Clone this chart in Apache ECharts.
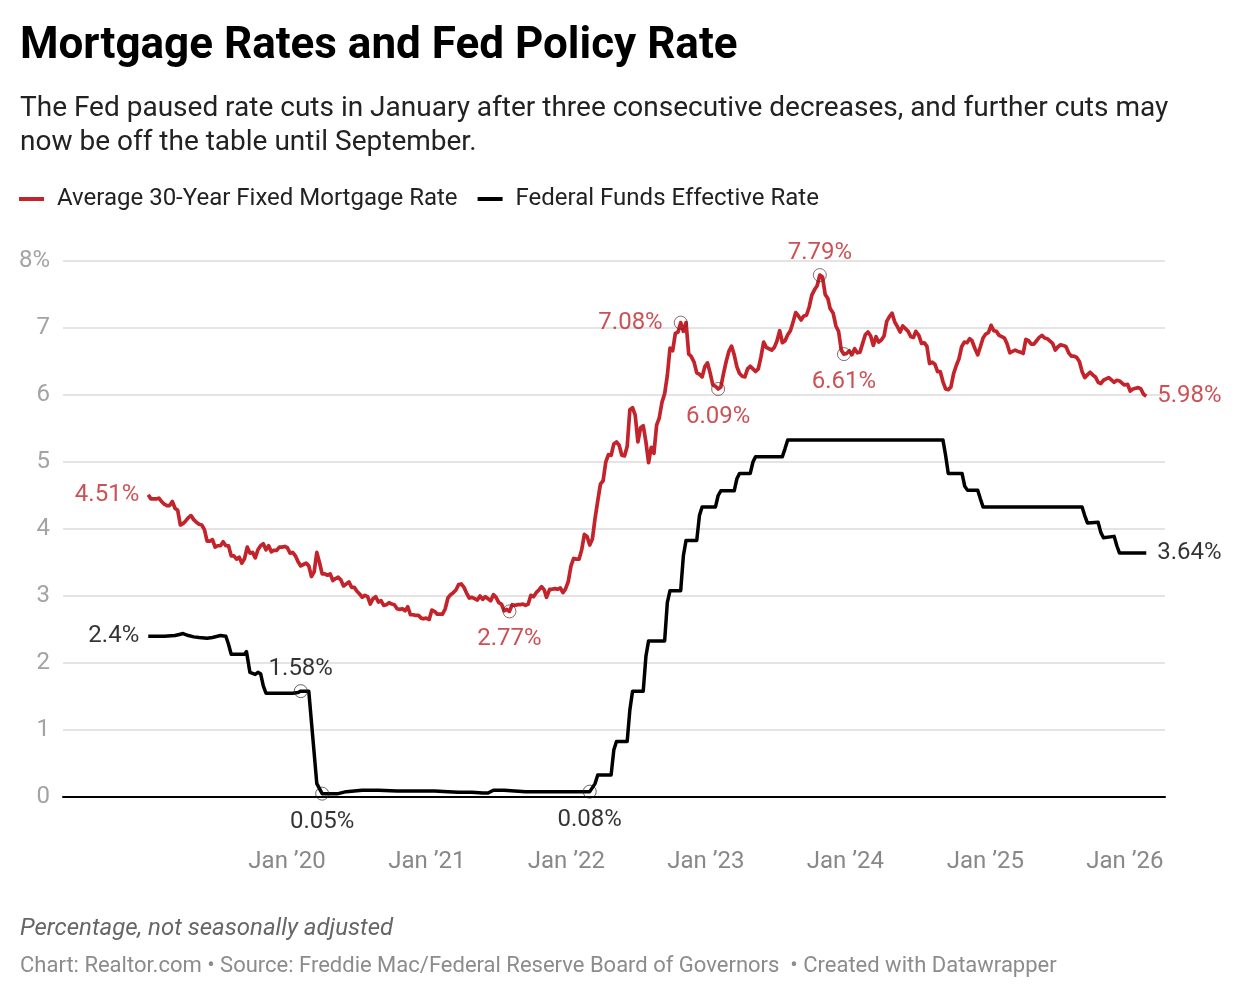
<!DOCTYPE html>
<html>
<head>
<meta charset="utf-8">
<script src="https://cdn.jsdelivr.net/npm/echarts@6/dist/echarts.min.js"></script>
<style>
html,body{margin:0;padding:0;background:#fff;}
#chart{width:1240px;height:998px;}
</style>
</head>
<body>
<div id="chart"></div>
<script>
// ---- Data ----
const mortgageRate = [
['2019-01-03',4.51],['2019-01-10',4.45],['2019-01-17',4.45],['2019-01-24',4.45],['2019-01-31',4.46],['2019-02-07',4.41],['2019-02-14',4.37],['2019-02-21',4.35],['2019-02-28',4.35],['2019-03-07',4.41],['2019-03-14',4.31],['2019-03-21',4.28],['2019-03-28',4.06],['2019-04-04',4.08],['2019-04-11',4.12],['2019-04-18',4.17],['2019-04-25',4.20],['2019-05-02',4.14],['2019-05-09',4.10],['2019-05-16',4.07],['2019-05-23',4.06],['2019-05-30',3.99],['2019-06-06',3.82],['2019-06-13',3.82],['2019-06-20',3.84],['2019-06-27',3.73],['2019-07-03',3.75],['2019-07-11',3.75],['2019-07-18',3.81],['2019-07-25',3.75],['2019-08-01',3.75],['2019-08-08',3.60],['2019-08-15',3.60],['2019-08-22',3.55],['2019-08-29',3.58],['2019-09-05',3.49],['2019-09-12',3.56],['2019-09-19',3.73],['2019-09-26',3.64],['2019-10-03',3.65],['2019-10-10',3.57],['2019-10-17',3.69],['2019-10-24',3.75],['2019-10-31',3.78],['2019-11-07',3.69],['2019-11-14',3.75],['2019-11-21',3.66],['2019-11-27',3.68],['2019-12-05',3.68],['2019-12-12',3.73],['2019-12-19',3.73],['2019-12-26',3.74],
['2020-01-02',3.72],['2020-01-09',3.64],['2020-01-16',3.65],['2020-01-23',3.60],['2020-01-30',3.51],['2020-02-06',3.45],['2020-02-13',3.47],['2020-02-20',3.49],['2020-02-27',3.45],['2020-03-05',3.29],['2020-03-12',3.36],['2020-03-19',3.65],['2020-03-26',3.50],['2020-04-02',3.33],['2020-04-09',3.33],['2020-04-16',3.31],['2020-04-23',3.33],['2020-04-30',3.23],['2020-05-07',3.26],['2020-05-14',3.28],['2020-05-21',3.24],['2020-05-28',3.15],['2020-06-04',3.18],['2020-06-11',3.21],['2020-06-18',3.13],['2020-06-25',3.13],['2020-07-02',3.07],['2020-07-09',3.03],['2020-07-16',2.98],['2020-07-23',3.01],['2020-07-30',2.99],['2020-08-06',2.88],['2020-08-13',2.96],['2020-08-20',2.99],['2020-08-27',2.91],['2020-09-03',2.93],['2020-09-10',2.86],['2020-09-17',2.87],['2020-09-24',2.90],['2020-10-01',2.88],['2020-10-08',2.87],['2020-10-15',2.81],['2020-10-22',2.80],['2020-10-29',2.81],['2020-11-05',2.78],['2020-11-12',2.84],['2020-11-19',2.72],['2020-11-25',2.72],['2020-12-03',2.71],['2020-12-10',2.71],['2020-12-17',2.67],['2020-12-23',2.66],['2020-12-30',2.67],
['2021-01-07',2.65],['2021-01-14',2.79],['2021-01-21',2.77],['2021-01-28',2.73],['2021-02-04',2.73],['2021-02-11',2.73],['2021-02-18',2.81],['2021-02-25',2.97],['2021-03-04',3.02],['2021-03-11',3.05],['2021-03-18',3.09],['2021-03-25',3.17],['2021-04-01',3.18],['2021-04-08',3.13],['2021-04-15',3.04],['2021-04-22',2.97],['2021-04-29',2.98],['2021-05-06',2.96],['2021-05-13',2.94],['2021-05-20',3.00],['2021-05-27',2.95],['2021-06-03',2.99],['2021-06-10',2.96],['2021-06-17',2.93],['2021-06-24',3.02],['2021-07-01',2.98],['2021-07-08',2.90],['2021-07-15',2.88],['2021-07-22',2.78],['2021-07-29',2.80],['2021-08-05',2.77],['2021-08-12',2.87],['2021-08-19',2.86],['2021-08-26',2.87],['2021-09-02',2.87],['2021-09-09',2.88],['2021-09-16',2.86],['2021-09-23',2.88],['2021-09-30',3.01],['2021-10-07',2.99],['2021-10-14',3.05],['2021-10-21',3.09],['2021-10-28',3.14],['2021-11-04',3.09],['2021-11-10',2.98],['2021-11-18',3.10],['2021-11-24',3.10],['2021-12-02',3.11],['2021-12-09',3.10],['2021-12-16',3.12],['2021-12-23',3.05],['2021-12-30',3.11],
['2022-01-06',3.22],['2022-01-13',3.45],['2022-01-20',3.56],['2022-01-27',3.55],['2022-02-03',3.55],['2022-02-10',3.69],['2022-02-17',3.92],['2022-02-24',3.89],['2022-03-03',3.76],['2022-03-10',3.85],['2022-03-17',4.16],['2022-03-24',4.42],['2022-03-31',4.67],['2022-04-07',4.72],['2022-04-14',5.00],['2022-04-21',5.11],['2022-04-28',5.10],['2022-05-05',5.27],['2022-05-12',5.30],['2022-05-19',5.25],['2022-05-26',5.10],['2022-06-02',5.09],['2022-06-09',5.23],['2022-06-16',5.78],['2022-06-23',5.81],['2022-06-30',5.70],['2022-07-07',5.30],['2022-07-14',5.51],['2022-07-21',5.54],['2022-07-28',5.30],['2022-08-04',4.99],['2022-08-11',5.22],['2022-08-18',5.13],['2022-08-25',5.55],['2022-09-01',5.66],['2022-09-08',5.89],['2022-09-15',6.02],['2022-09-22',6.29],['2022-09-29',6.70],['2022-10-06',6.66],['2022-10-13',6.92],['2022-10-20',6.94],['2022-10-27',7.08],['2022-11-03',6.95],['2022-11-10',7.08],['2022-11-17',6.61],['2022-11-23',6.58],['2022-12-01',6.49],['2022-12-08',6.33],['2022-12-15',6.31],['2022-12-22',6.27],['2022-12-29',6.42],
['2023-01-05',6.48],['2023-01-12',6.33],['2023-01-19',6.15],['2023-01-26',6.13],['2023-02-02',6.09],['2023-02-09',6.12],['2023-02-16',6.32],['2023-02-23',6.50],['2023-03-02',6.65],['2023-03-09',6.73],['2023-03-16',6.60],['2023-03-23',6.42],['2023-03-30',6.32],['2023-04-06',6.28],['2023-04-13',6.27],['2023-04-20',6.39],['2023-04-27',6.43],['2023-05-04',6.39],['2023-05-11',6.35],['2023-05-18',6.39],['2023-05-25',6.57],['2023-06-01',6.79],['2023-06-08',6.71],['2023-06-15',6.69],['2023-06-22',6.67],['2023-06-29',6.71],['2023-07-06',6.81],['2023-07-13',6.96],['2023-07-20',6.78],['2023-07-27',6.81],['2023-08-03',6.90],['2023-08-10',6.96],['2023-08-17',7.09],['2023-08-24',7.23],['2023-08-31',7.18],['2023-09-07',7.12],['2023-09-14',7.18],['2023-09-21',7.19],['2023-09-28',7.31],['2023-10-05',7.49],['2023-10-12',7.57],['2023-10-19',7.63],['2023-10-26',7.79],['2023-11-02',7.76],['2023-11-09',7.50],['2023-11-16',7.44],['2023-11-22',7.29],['2023-11-30',7.22],['2023-12-07',7.03],['2023-12-14',6.95],['2023-12-21',6.67],['2023-12-28',6.61],
['2024-01-04',6.62],['2024-01-11',6.66],['2024-01-18',6.60],['2024-01-25',6.69],['2024-02-01',6.63],['2024-02-08',6.64],['2024-02-15',6.77],['2024-02-22',6.90],['2024-02-29',6.94],['2024-03-07',6.88],['2024-03-14',6.74],['2024-03-21',6.87],['2024-03-28',6.79],['2024-04-04',6.82],['2024-04-11',6.88],['2024-04-18',7.10],['2024-04-25',7.17],['2024-05-02',7.22],['2024-05-09',7.09],['2024-05-16',7.02],['2024-05-23',6.94],['2024-05-30',7.03],['2024-06-06',6.99],['2024-06-13',6.95],['2024-06-20',6.87],['2024-06-27',6.86],['2024-07-03',6.95],['2024-07-11',6.89],['2024-07-18',6.77],['2024-07-25',6.78],['2024-08-01',6.73],['2024-08-08',6.47],['2024-08-15',6.49],['2024-08-22',6.46],['2024-08-29',6.35],['2024-09-05',6.35],['2024-09-12',6.20],['2024-09-19',6.09],['2024-09-26',6.08],['2024-10-03',6.12],['2024-10-10',6.32],['2024-10-17',6.44],['2024-10-24',6.54],['2024-10-31',6.72],['2024-11-07',6.79],['2024-11-14',6.78],['2024-11-21',6.84],['2024-11-27',6.81],['2024-12-05',6.69],['2024-12-12',6.60],['2024-12-19',6.72],['2024-12-26',6.85],
['2025-01-02',6.91],['2025-01-09',6.93],['2025-01-16',7.04],['2025-01-23',6.96],['2025-01-30',6.95],['2025-02-06',6.89],['2025-02-13',6.87],['2025-02-20',6.85],['2025-02-27',6.76],['2025-03-06',6.63],['2025-03-13',6.65],['2025-03-20',6.67],['2025-03-27',6.65],['2025-04-03',6.64],['2025-04-10',6.62],['2025-04-17',6.83],['2025-04-24',6.81],['2025-05-01',6.76],['2025-05-08',6.76],['2025-05-15',6.81],['2025-05-22',6.86],['2025-05-29',6.89],['2025-06-05',6.85],['2025-06-12',6.84],['2025-06-18',6.81],['2025-06-26',6.77],['2025-07-03',6.67],['2025-07-10',6.72],['2025-07-17',6.75],['2025-07-24',6.74],['2025-07-31',6.72],['2025-08-07',6.63],['2025-08-14',6.58],['2025-08-21',6.58],['2025-08-28',6.56],['2025-09-04',6.50],['2025-09-11',6.35],['2025-09-18',6.26],['2025-09-25',6.30],['2025-10-02',6.34],['2025-10-09',6.30],['2025-10-16',6.27],['2025-10-23',6.19],['2025-10-30',6.17],['2025-11-06',6.22],['2025-11-13',6.24],['2025-11-20',6.26],['2025-11-26',6.23],['2025-12-04',6.19],['2025-12-11',6.22],['2025-12-18',6.21],['2025-12-24',6.18],['2025-12-31',6.15],
['2026-01-08',6.16],['2026-01-15',6.06],['2026-01-22',6.09],['2026-01-29',6.10],['2026-02-05',6.11],['2026-02-12',6.09],['2026-02-19',6.01],['2026-02-26',5.98]
];

const fedFundsRate = [
['2019-01-03',2.40],['2019-02-14',2.40],['2019-03-14',2.41],['2019-03-28',2.43],['2019-04-04',2.44],['2019-04-18',2.41],['2019-05-02',2.39],['2019-05-16',2.38],['2019-06-06',2.37],['2019-06-20',2.38],['2019-07-11',2.41],['2019-07-25',2.40],['2019-08-01',2.28],['2019-08-08',2.13],['2019-09-12',2.13],['2019-09-17',2.17],['2019-09-26',1.86],['2019-10-10',1.83],['2019-10-17',1.86],['2019-10-24',1.84],['2019-10-31',1.66],['2019-11-07',1.55],['2020-01-16',1.55],['2020-01-30',1.56],['2020-02-06',1.58],['2020-02-27',1.58],['2020-03-19',0.20],['2020-04-02',0.05],['2020-04-23',0.05],['2020-05-14',0.05],['2020-06-04',0.08],['2020-06-25',0.09],['2020-07-16',0.10],['2020-08-27',0.10],['2020-10-15',0.09],['2020-12-17',0.09],['2021-01-21',0.09],['2021-02-25',0.08],['2021-03-25',0.07],['2021-04-29',0.07],['2021-05-27',0.06],['2021-06-10',0.06],['2021-06-24',0.10],['2021-07-22',0.10],['2021-08-19',0.09],['2021-09-16',0.08],['2021-12-30',0.08],['2022-03-03',0.08],['2022-03-17',0.20],['2022-03-24',0.33],['2022-04-28',0.33],['2022-05-05',0.70],['2022-05-12',0.83],['2022-06-09',0.83],['2022-06-16',1.30],['2022-06-23',1.58],['2022-07-21',1.58],['2022-07-28',2.10],['2022-08-04',2.33],['2022-09-15',2.33],['2022-09-22',2.90],['2022-09-29',3.08],['2022-10-27',3.08],['2022-11-03',3.60],['2022-11-10',3.83],['2022-12-08',3.83],['2022-12-15',4.20],['2022-12-22',4.33],['2023-01-26',4.33],['2023-02-02',4.50],['2023-02-09',4.57],['2023-03-16',4.57],['2023-03-23',4.75],['2023-03-30',4.83],['2023-04-27',4.83],['2023-05-04',5.00],['2023-05-11',5.08],['2023-07-20',5.08],['2023-07-27',5.20],['2023-08-03',5.33],['2024-09-12',5.33],['2024-09-19',5.10],['2024-09-26',4.83],['2024-11-01',4.83],['2024-11-08',4.64],['2024-11-15',4.58],['2024-12-12',4.58],['2024-12-19',4.45],['2024-12-26',4.33],['2025-09-11',4.33],['2025-09-18',4.20],['2025-09-25',4.09],['2025-10-23',4.10],['2025-10-30',3.95],['2025-11-06',3.87],['2025-12-04',3.89],['2025-12-11',3.75],['2025-12-18',3.64],['2026-02-26',3.64]
];

// dates of the circled highlight points
const mortgageNoteDates = ['2021-08-05','2022-10-27','2023-02-02','2023-10-26','2023-12-28'];
const fedNoteDates = ['2020-02-06','2020-04-02','2022-03-03'];

const yTicks = [0,1,2,3,4,5,6,7,8];
const xTickDates = ['2020-01-01','2021-01-01','2022-01-01','2023-01-01','2024-01-01','2025-01-01','2026-01-01'];
const xRange = ['2018-05-25','2026-04-16'];

const seriesNames = ['Average 30-Year Fixed Mortgage Rate','Federal Funds Effective Rate'];
const titleText = 'Mortgage Rates and Fed Policy Rate';
const subtitleLines = ['The Fed paused rate cuts in January after three consecutive decreases, and further cuts may','now be off the table until September.'];
const noteText = 'Percentage, not seasonally adjusted';
const sourceText = 'Chart: Realtor.com \u2022 Source: Freddie Mac/Federal Reserve Board of Governors  \u2022 Created with Datawrapper';

// ---- Styling / layout ----
const RED = '#c3232a';
const RED_TEXT = '#bf252b';
const FONT = 'Roboto, "Noto Sans", sans-serif';
const LABEL_SIZE = 24;
const notePos = {
  '2021-08-05':'bottom','2022-10-27':'left','2023-02-02':'bottom','2023-10-26':'top','2023-12-28':'bottom',
  '2020-02-06':'top','2020-04-02':'bottom','2022-03-03':'bottom'
};
const noteDist = { top: 3, bottom: 9, left: 11 };

const ms = d => Date.parse(d + 'T00:00:00Z');
const toXY = arr => arr.map(p => [ms(p[0]), p[1]]);
const mortgageXY = toXY(mortgageRate);
const fedXY = toXY(fedFundsRate);

function fmt(v){ return Number(v).toString() + '%'; }
function lookup(arr, d){ return arr.find(p => p[0] === d); }

function noteItems(arr, dates, color){
  return dates.map(d => {
    const p = lookup(arr, d);
    return {
      value: [ms(p[0]), p[1]],
      label: { show: true, position: notePos[d], distance: noteDist[notePos[d]], formatter: fmt(p[1]), color: color,
               fontSize: LABEL_SIZE, fontFamily: FONT }
    };
  });
}
function endItems(arr, color){
  const first = arr[0], last = arr[arr.length-1];
  return [
    { value: [ms(first[0]), first[1]], label: { show: true, position: 'left', distance: 9, formatter: fmt(first[1]), color: color, fontSize: LABEL_SIZE, fontFamily: FONT } },
    { value: [ms(last[0]), last[1]], label: { show: true, position: 'right', distance: 11, formatter: fmt(last[1]), color: color, fontSize: LABEL_SIZE, fontFamily: FONT } }
  ];
}

const chart = echarts.init(document.getElementById('chart'), null, {renderer:'canvas'});
chart.setOption({
  backgroundColor: '#fff',
  animation: false,
  textStyle: { fontFamily: FONT },
  graphic: [
    { type:'text', left: 20, top: 25, style:{ text: titleText, font: 'bold 44px ' + FONT, fill:'#000' } },
    { type:'text', left: 20, top: 92, style:{ text: subtitleLines.join('\n'), font: '28px ' + FONT, fill:'#222', lineHeight: 34 } },
    { type:'text', left: 20, top: 917, style:{ text: noteText, font: 'italic 24px ' + FONT, fill:'#666' } },
    { type:'text', left: 20, top: 955, style:{ text: sourceText, font: '22px ' + FONT, fill:'#8c8c8c' } }
  ],
  legend: {
    left: 14, top: 182,
    icon: 'rect', itemWidth: 25, itemHeight: 4, itemGap: 20,
    textStyle: { fontSize: 24, color: '#222', fontFamily: FONT, padding:[0,0,0,8] },
    data: [ { name: seriesNames[0], itemStyle:{color:RED} }, { name: seriesNames[1], itemStyle:{color:'#000'} } ],
    selectedMode: false
  },
  grid: { left: 63, right: 75, top: 261, bottom: 201, containLabel: false },
  xAxis: {
    type: 'value',
    min: ms(xRange[0]), max: ms(xRange[1]),
    axisLine: { show: true, onZero: true, lineStyle: { color: '#000', width: 2 } },
    axisTick: { show: false },
    splitLine: { show: false },
    axisLabel: {
      customValues: xTickDates.map(ms),
      formatter: function(v){ const d = new Date(v); return 'Jan \u2019' + String(d.getUTCFullYear()).slice(2); },
      color: '#888', fontSize: 24, margin: 53, fontFamily: FONT
    }
  },
  yAxis: {
    type: 'value', min: 0, max: 8, interval: 1,
    axisLine: { show: false }, axisTick: { show: false },
    splitLine: { lineStyle: { color: '#e4e4e4', width: 2 } },
    axisLabel: {
      customValues: yTicks,
      formatter: function(v){ return v === 8 ? '8%' : String(v); },
      color: '#a3a3a3', fontSize: 24, margin: 13, fontFamily: FONT
    }
  },
  series: [
    { name: seriesNames[0], type: 'line', data: mortgageXY, showSymbol: false, symbol: 'none',
      lineStyle: { color: RED, width: 3.7, join: 'round' }, itemStyle: { color: RED }, z: 3 },
    { name: seriesNames[1], type: 'line', data: fedXY, showSymbol: false, symbol: 'none',
      lineStyle: { color: '#000', width: 3.5, join: 'round' }, itemStyle: { color: '#000' }, z: 2 },
    { type: 'scatter', data: noteItems(mortgageRate, mortgageNoteDates, RED_TEXT), symbol: 'circle', symbolSize: 13,
      itemStyle: { color: 'rgba(255,255,255,0)', borderColor: 'rgba(90,40,40,0.85)', borderWidth: 1 }, z: 5, silent: true },
    { type: 'scatter', data: noteItems(fedFundsRate, fedNoteDates, '#000'), symbol: 'circle', symbolSize: 13,
      itemStyle: { color: 'rgba(255,255,255,0)', borderColor: 'rgba(30,30,30,0.85)', borderWidth: 1 }, z: 5, silent: true },
    { type: 'scatter', data: endItems(mortgageRate, RED_TEXT), symbolSize: 0, z: 5, silent: true },
    { type: 'scatter', data: endItems(fedFundsRate, '#000'), symbolSize: 0, z: 5, silent: true }
  ]
});
</script>
</body>
</html>
